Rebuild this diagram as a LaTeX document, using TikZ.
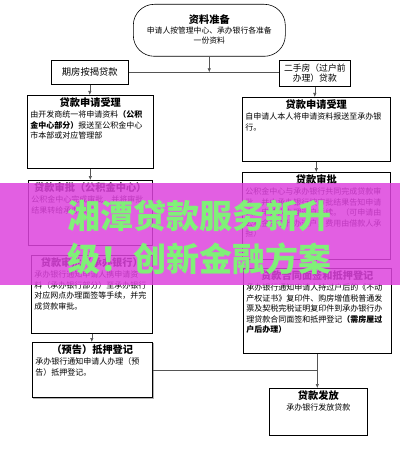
\documentclass[tikz,border=0pt]{standalone}
\usepackage{fontspec}
\newfontfamily\cjk{Noto Sans CJK SC}
\usetikzlibrary{arrows.meta,shadows}
\definecolor{bandcol}{RGB}{222,67,222}
\definecolor{bigtext}{RGB}{128,240,120}
\definecolor{conncol}{RGB}{85,85,85}
\newcommand\tsz{\fontsize{10.2}{12}\selectfont\bfseries}
\newcommand\bsz{\fontsize{8}{10.5}\selectfont}
\newcommand\fbcontent[4]{\parbox[c][#2][t]{#1}{\vspace*{2.5pt}\centering{\tsz #3\par}\vspace{0.5pt}\raggedright\bsz #4\par}}
\tikzset{
  flowbox/.style={draw=black, line width=0.6pt, inner xsep=3pt, inner ysep=0pt, anchor=north west, fill=white, font=\cjk},
  smallbox/.style={draw=black, line width=0.6pt, inner sep=0pt, anchor=north west, fill=white, font=\cjk\fontsize{8.8}{10}\selectfont, align=center},
  conn/.style={draw=conncol, line width=0.6pt},
  arr/.style={conn, -{Latex[length=4pt,width=3.5pt]}},
  shadowed/.style={copy shadow={shadow xshift=0.8pt, shadow yshift=-1.2pt, draw=gray!60, fill=gray!60}},
  bigtxt/.style={font=\cjk\bfseries\fontsize{33}{36}\selectfont, text=bigtext, inner sep=0pt}
}
\begin{document}
\begin{tikzpicture}[x=1pt,y=-1pt]
\useasboundingbox (0,0) rectangle (400,473);
\fill[white] (0,0) rectangle (400,473);
% top
\node[draw=black, line width=0.6pt, rounded corners=21pt, inner xsep=3pt, inner ysep=0pt, anchor=north west, fill=white, font=\cjk] (T) at (133,4)
  {\parbox[c][52pt][t]{146pt}{\centering\vspace*{10.5pt}{\tsz 资料准备\par}\vspace{-0.5pt}{\fontsize{7.8}{10}\selectfont 申请人按管理中心、承办银行各准备\\一份资料\par}}};
\node[smallbox, minimum width=77pt, minimum height=24pt, font=\cjk\fontsize{9.3}{10}\selectfont] (L0) at (51,60) {期房按揭贷款};
\node[smallbox, minimum width=71pt, minimum height=26pt] (R0) at (279,60) {二手房（过户前\\办理）贷款};
% left column
\node[flowbox] (L1) at (27,95) {\fbcontent{120pt}{73pt}{贷款申请受理}{由开发商统一将申请资料{\bfseries（公积}\\{\bfseries 金中心部分）}报送至公积金中心\\市本部或对应管理部}};
\node[flowbox] (L2) at (28,180) {\fbcontent{118pt}{65pt}{贷款审批（公积金中心）}{公积金中心完成审批，并将审批\\结果转给承办银行。}};
\node[flowbox] (L3) at (31,255) {\fbcontent{115pt}{78pt}{贷款审批（承办银行）}{承办银行通知申请人携申请资\\料（承办银行部分）至承办银行\\对应网点办理面签等手续，并完\\成贷款审批。}};
\node[flowbox, shadowed] (L4) at (32,342) {\fbcontent{114pt}{55pt}{（预告）抵押登记}{承办银行通知申请人办理（预\\告）抵押登记。}};
% right column
\node[flowbox] (R1) at (242,97) {\fbcontent{142pt}{64pt}{贷款申请受理}{自申请人本人将申请资料报送至承办银\\行。}};
\node[flowbox] (R2) at (242,172) {\fbcontent{142pt}{87pt}{贷款审批}{公积金中心与承办银行共同完成贷款审\\批，并由承办银行按审批结果告知申请\\人，申请人办理过户手续。（可申请由\\公积金中心代办过户，费用由借款人承\\担）}};
\node[flowbox] (R3) at (243,268) {\fbcontent{142pt}{85pt}{贷款合同面签和抵押登记}{承办银行通知申请人持过户后的《不动\\产权证书》复印件、购房增值税普通发\\票及契税完税证明复印件到承办银行办\\理贷款合同面签和抵押登记{\bfseries（需房屋过}\\{\bfseries 户后办理）}}};
\node[flowbox] (R4) at (269,388) {\fbcontent{92pt}{47pt}{贷款发放}{\centering 承办银行发放贷款}};
% connectors
\draw[arr] (T.south) -- (T.south |- L0.east);
\draw[conn] (L0.east) -- (L0.east -| R0.west);
\draw[arr] (L0.south) -- (L0.south |- L1.north);
\draw[arr] (R0.south) -- (R0.south |- R1.north);
\draw[arr] (L1.south) -- (L1.south |- L2.north);
\draw[arr] (R1.south) -- (R1.south |- R2.north);
\draw[arr] (L2.south) -- (L2.south |- L3.north);
\draw[arr] (R2.south) -- (R2.south |- R3.north);
\draw[arr] (L3.south) -- (L3.south |- L4.north);
\draw[conn] (L4.east) -- (L4.east -| R3.south);
\draw[arr] (R3.south) -- (R3.south |- R4.north);
% banner
\fill[bandcol, fill opacity=0.85] (0,183) rectangle (400,285);
\node[bigtxt] (W1) at (199,216) {湘潭贷款服务新升};
\node[bigtxt] (W2) at (199,259) {级！创新金融方案};
\end{tikzpicture}
\end{document}
